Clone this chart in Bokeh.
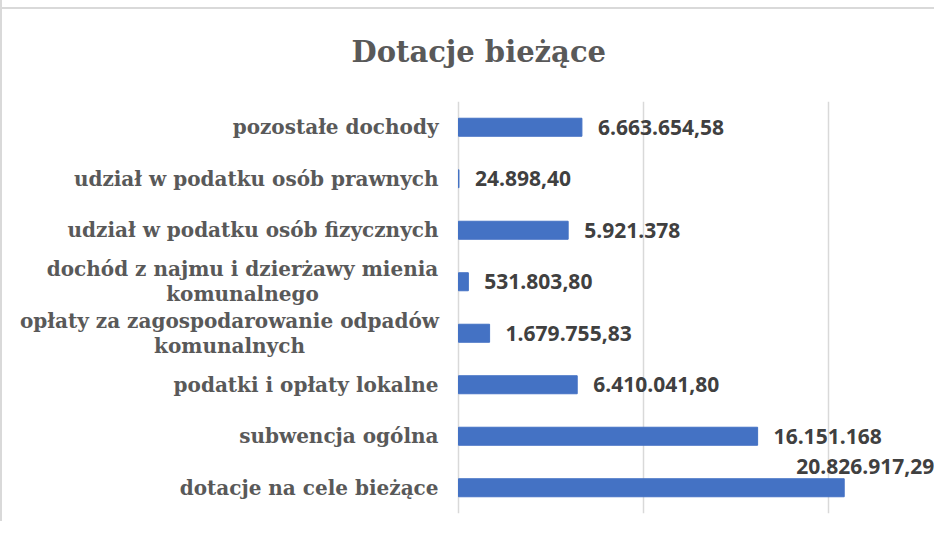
from bokeh.plotting import figure
from bokeh.models import ColumnDataSource, FactorRange, Range1d, FixedTicker, Title
from bokeh.core.properties import value
from bokeh.embed import file_html
from bokeh.resources import INLINE

# ---- data (bottom to top) ----
categories = [
    "dotacje na cele bieżące",
    "subwencja ogólna",
    "podatki i opłaty lokalne",
    "opłaty za zagospodarowanie odpadów\nkomunalnych",
    "dochód z najmu i dzierżawy mienia\nkomunalnego",
    "udział w podatku osób fizycznych",
    "udział w podatku osób prawnych",
    "pozostałe dochody",
]
values = [20826917.29, 16151168, 6410041.80, 1679755.83, 531803.80,
          5921378, 24898.40, 6663654.58]
value_labels = ["20.826.917,29", "16.151.168", "6.410.041,80", "1.679.755,83",
                "531.803,80", "5.921.378", "24.898,40", "6.663.654,58"]
title_text = "Dotacje bieżące"

factors = [c.replace("\n", " ") for c in categories]

# value label placement: outside end, largest one moved above its bar
dx = [16] * len(values)
dy = [0] * len(values)
imax = values.index(max(values))
dx[imax] = -48
dy[imax] = -21

# category label placement: right-aligned; wrapped labels centred on their first line
half_first_line = {3: 209, 4: 196}
cat_dx = [-20 - half_first_line.get(i, 0) for i in range(len(categories))]
cat_align = ["center" if i in half_first_line else "right" for i in range(len(categories))]

src = ColumnDataSource(dict(cat=factors, val=values, lab=value_labels, dx=dx, dy=dy,
                            zero=[0] * len(values), catlab=categories,
                            cdx=cat_dx, calign=cat_align))

# frame covers the whole canvas; zero sits 456 px in, 10 M = 185.2 px
px_per_unit = 185.2 / 10000000
p = figure(width=932, height=521, output_backend="svg", toolbar_location=None,
           y_range=FactorRange(factors=factors, range_padding=0),
           x_range=Range1d(-456 / px_per_unit, (932 - 456) / px_per_unit),
           frame_width=932, frame_height=412,
           min_border_left=0, min_border_right=0, min_border_top=101,
           min_border_bottom=8)
p.styles = {"border-left": "2px solid #d9d9d9",
            "background": "linear-gradient(#d9d9d9, #d9d9d9) no-repeat 0 7px / 100% 2px"}
p.border_fill_color = None
p.background_fill_color = None

p.hbar(y="cat", right="val", height=0.35, left=0, source=src,
       fill_color="#4472C4", line_color="#4472C4")

p.text(x="val", y="cat", text="lab", source=src, x_offset="dx", y_offset="dy",
       text_font=value("Open Sans"), text_font_style="bold", text_font_size="21px",
       text_color="#404040", text_baseline="middle", text_align="left")

p.text(x="zero", y="cat", text="catlab", source=src, x_offset="cdx",
       text_font=value("DejaVu Serif"), text_font_style="bold", text_font_size="20px",
       text_color="#595959", text_baseline="middle", text_align="calign",
       text_line_height=1.05)

p.outline_line_color = None
p.xaxis.visible = False
p.yaxis.visible = False
p.xgrid.ticker = FixedTicker(ticks=[0, 10000000, 20000000])
p.xgrid.grid_line_color = "#d9d9d9"
p.xgrid.grid_line_width = 1.5
p.ygrid.grid_line_color = None

t = Title(text=title_text, align="left", offset=349, text_font="DejaVu Serif",
          text_font_style="bold", text_font_size="29px", text_color="#595959",
          standoff=65)
p.add_layout(t, "above")

open("out.html", "w").write(file_html(p, INLINE))
